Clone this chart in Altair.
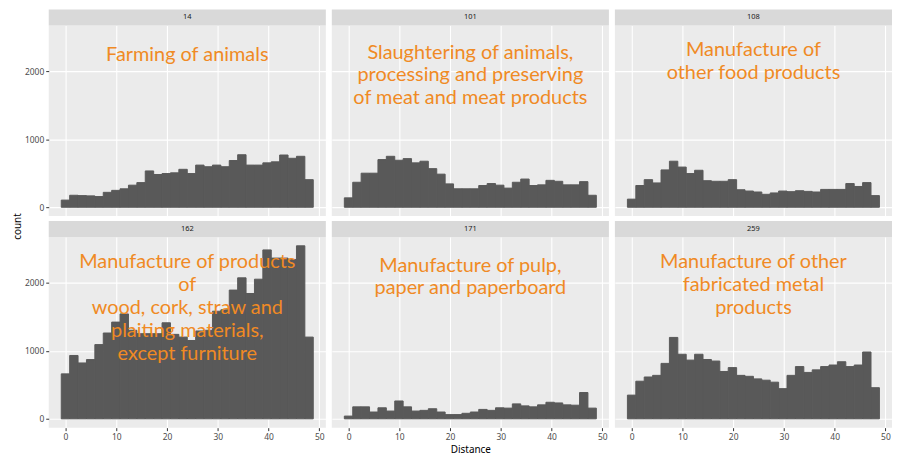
import altair as alt
import pandas as pd

# ---------------- data ----------------
panel_codes = ["14", "101", "108", "162", "171", "259"]
panel_labels = [
    "Farming of animals",
    "Slaughtering of animals,\nprocessing and preserving\nof meat and meat products",
    "Manufacture of\nother food products",
    "Manufacture of products\nof\nwood, cork, straw and\nplaiting materials,\nexcept furniture",
    "Manufacture of pulp,\npaper and paperboard",
    "Manufacture of other\nfabricated metal\nproducts",
]
label_x = [24, 24, 24, 24, 24, 24]
label_y = [2230, 2270, 2310, 2300, 2250, 2300]   # first-line positions

n_bins = 30
bin_low = -0.83
bin_width = 1.655

counts_14 = [105, 176, 171, 167, 157, 219, 248, 271, 324, 362, 533, 481, 495, 505, 557,
             495, 619, 595, 619, 595, 686, 771, 619, 619, 652, 667, 767, 719, 748, 405]
counts_101 = [138, 367, 500, 500, 700, 748, 690, 714, 652, 676, 567, 486, 343, 271, 271,
              271, 319, 348, 324, 281, 367, 414, 319, 329, 395, 381, 329, 329, 376, 176]
counts_108 = [119, 319, 405, 357, 548, 676, 590, 495, 543, 390, 381, 381, 405, 257, 238,
              224, 190, 210, 238, 229, 243, 233, 224, 262, 262, 262, 348, 305, 362, 171]
counts_162 = [660, 930, 820, 870, 1090, 1260, 1420, 1540, 1300, 1250, 1250, 1250, 1410, 1240, 1200,
              1150, 1290, 1300, 1580, 1600, 1890, 2070, 1840, 2050, 2480, 2360, 2360, 2340, 2540, 1200]
counts_171 = [40, 176, 176, 100, 162, 114, 262, 176, 114, 124, 148, 100, 62, 62, 81,
              100, 138, 124, 162, 157, 219, 190, 176, 205, 243, 233, 205, 200, 386, 157]
counts_259 = [348, 552, 614, 638, 814, 1195, 948, 862, 948, 871, 848, 695, 752, 638, 624,
              586, 567, 538, 443, 638, 767, 681, 719, 767, 790, 838, 767, 790, 981, 457]
all_counts = [counts_14, counts_101, counts_108, counts_162, counts_171, counts_259]

x_ticks = [0, 5, 10, 15, 20, 25, 30, 35, 40, 45, 50]
y_ticks = [0, 500, 1000, 1500, 2000, 2500]

# ---------------- style ----------------
W, H = 279, 192
STRIP = 16
x_scale = alt.Scale(domain=[-3.3, 51.3], nice=False, zero=False)
y_scale = alt.Scale(domain=[-130, 2670], nice=False, zero=False)


def cond(test, major, minor):
    return {"condition": {"test": test, "value": major}, "value": minor}


starts = [bin_low + bin_width * i for i in range(n_bins)]
ends = [bin_low + bin_width * (i + 1) for i in range(n_bins)]

panels = []
for i, code in enumerate(panel_codes):
    col, row = i % 3, i // 3
    left, bottom = col == 0, row == 1
    df = pd.DataFrame({"start": starts, "end": ends, "count": all_counts[i], "base": [0] * n_bins})

    xt = "datum.value % 10 === 0"
    yt = "datum.value % 1000 === 0"
    x_axis_args = dict(
        values=x_ticks, grid=True, gridColor="white",
        gridWidth=cond(xt, 1.1, 0.5), domain=False,
        labels=bottom, ticks=bottom, tickSize=3,
        tickColor=cond(xt, "#333333", "transparent"),
        labelExpr="datum.value % 10 === 0 ? datum.label : ''",
        labelColor="#4D4D4D", labelFontSize=8.5, labelPadding=2,
        labelOverlap=False, labelFlush=False, labelFont="Noto Sans",
        titleFont="Noto Sans", titleFontSize=10, titleFontWeight="normal",
        titleColor="black", titlePadding=3,
    )
    y_axis_args = dict(
        values=y_ticks, grid=True, gridColor="white",
        gridWidth=cond(yt, 1.1, 0.5), domain=False,
        labels=left, ticks=left, tickSize=3,
        tickColor=cond(yt, "#333333", "transparent"),
        labelExpr="datum.value % 1000 === 0 ? datum.label : ''",
        format="d",
        labelColor="#4D4D4D", labelFontSize=8.5, labelPadding=2,
        labelOverlap=False, labelFont="Noto Sans",
        titleFont="Noto Sans", titleFontSize=10, titleFontWeight="normal",
        titleColor="black", titlePadding=2,
    )
    x_title = "Distance" if (bottom and col == 1) else None
    y_title = "count" if (bottom and col == 0) else None
    if y_title:
        y_axis_args["titleY"] = -11

    bars = alt.Chart(df).mark_rect(color="#595959", stroke="#595959", strokeWidth=1).encode(
        x=alt.X("start:Q", scale=x_scale, axis=alt.Axis(**x_axis_args), title=x_title),
        x2="end:Q",
        y=alt.Y("count:Q", scale=y_scale, axis=alt.Axis(**y_axis_args), title=y_title),
        y2="base:Q",
    )

    lab_df = pd.DataFrame({"start": [label_x[i]], "count": [label_y[i]], "label": [panel_labels[i]]})
    label = alt.Chart(lab_df).mark_text(
        lineBreak="\n", lineHeight=23, fontSize=20, color="#F08A24",
        font="Lato", baseline="middle", align="center",
    ).encode(
        x=alt.X("start:Q", scale=x_scale),
        y=alt.Y("count:Q", scale=y_scale),
        text="label:N",
    )

    strip_df = pd.DataFrame({"code": [code]})
    strip = alt.Chart(strip_df).mark_rect(color="#D9D9D9").encode(
        x=alt.value(0), x2=alt.value(W), y=alt.value(-STRIP), y2=alt.value(0)
    )
    strip_text = alt.Chart(strip_df).mark_text(
        fontSize=7.5, color="#1A1A1A", font="Noto Sans", baseline="middle"
    ).encode(text="code:N", x=alt.value(W / 2), y=alt.value(-STRIP / 2))

    panels.append(alt.layer(bars, label, strip, strip_text).properties(width=W, height=H))

chart = alt.concat(
    *panels, columns=3, spacing={"row": 21, "column": 6}, bounds="flush"
).properties(
    padding={"left": 4, "top": 0, "right": 0, "bottom": 0}
).configure_view(fill="#EBEBEB", stroke=None)

chart.save("out.html", embed_options={"renderer": "svg", "actions": False})
